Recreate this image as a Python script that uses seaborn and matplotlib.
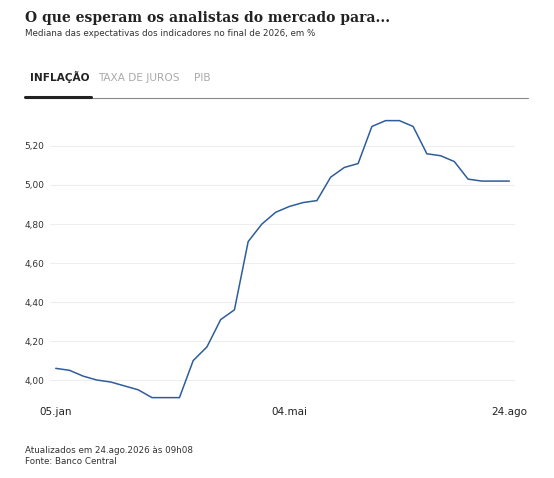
import pandas as pd
import matplotlib.pyplot as plt
import seaborn as sns

# Mediana das expectativas (IPCA 2026), semanal de 05.jan a 24.ago
semanas = pd.date_range("2026-01-05", "2026-08-24", freq="7D")
valores = [4.06, 4.05, 4.02, 4.00, 3.99, 3.97, 3.95, 3.91, 3.91, 3.91,
           4.10, 4.17, 4.31, 4.36, 4.71, 4.80, 4.86, 4.89, 4.91, 4.92,
           5.04, 5.09, 5.11, 5.30, 5.33, 5.33, 5.30, 5.16, 5.15, 5.12,
           5.03, 5.02, 5.02, 5.02]
yticks = [4.0, 4.2, 4.4, 4.6, 4.8, 5.0, 5.2]
xticks = ["2026-01-05", "2026-05-04", "2026-08-24"]
xlabels = ["05.jan", "04.mai", "24.ago"]
abas = ["INFLAÇÃO", "TAXA DE JUROS", "PIB"]

df = pd.DataFrame({"semana": semanas, "valor": valores})

sns.set_style("white")
plt.rcParams["font.family"] = ["DejaVu Sans"]
fig = plt.figure(figsize=(5.54, 4.78), dpi=100)
ax = fig.add_axes([0.09, 0.16, 0.84, 0.604])

sns.lineplot(data=df, x="semana", y="valor", ax=ax, color="#2f5d9a", linewidth=1.1)

ax.set_ylim(3.89, 5.37)
ax.set_yticks(yticks)
ax.set_yticklabels([f"{v:.2f}".replace(".", ",") for v in yticks], fontsize=6.5, color="#333")
ax.set_xticks(pd.to_datetime(xticks))
ax.set_xticklabels(xlabels, fontsize=7.5, color="#222")
ax.set_xlim(pd.Timestamp("2026-01-02"), pd.Timestamp("2026-08-27"))
ax.grid(axis="y", color="#eeeeee", linewidth=0.8)
ax.tick_params(length=0, pad=4)
ax.set_xlabel("")
ax.set_ylabel("")
for s in ax.spines.values():
    s.set_visible(False)

fig.text(0.045, 0.955, "O que esperam os analistas do mercado para...", fontsize=10,
         fontweight="bold", family="DejaVu Serif", color="#222")
fig.text(0.045, 0.925, "Mediana das expectativas dos indicadores no final de 2026, em %",
         fontsize=6.3, color="#333")

xs = [0.054, 0.177, 0.350]
for i, (t, x) in enumerate(zip(abas, xs)):
    fig.text(x, 0.830, t, fontsize=7.6, color="#222" if i == 0 else "#aaaaaa",
             fontweight="bold" if i == 0 else "normal",
             family=["Liberation Sans Narrow", "DejaVu Sans"])
fig.add_artist(plt.Line2D([0.045, 0.953], [0.795, 0.795], color="#888", lw=0.8))
fig.add_artist(plt.Line2D([0.045, 0.165], [0.797, 0.797], color="#222", lw=2.2))

fig.text(0.045, 0.052, "Atualizados em 24.ago.2026 às 09h08", fontsize=6.3, color="#333")
fig.text(0.045, 0.030, "Fonte: Banco Central", fontsize=6.3, color="#333")

fig.savefig("out.png", dpi=100)
